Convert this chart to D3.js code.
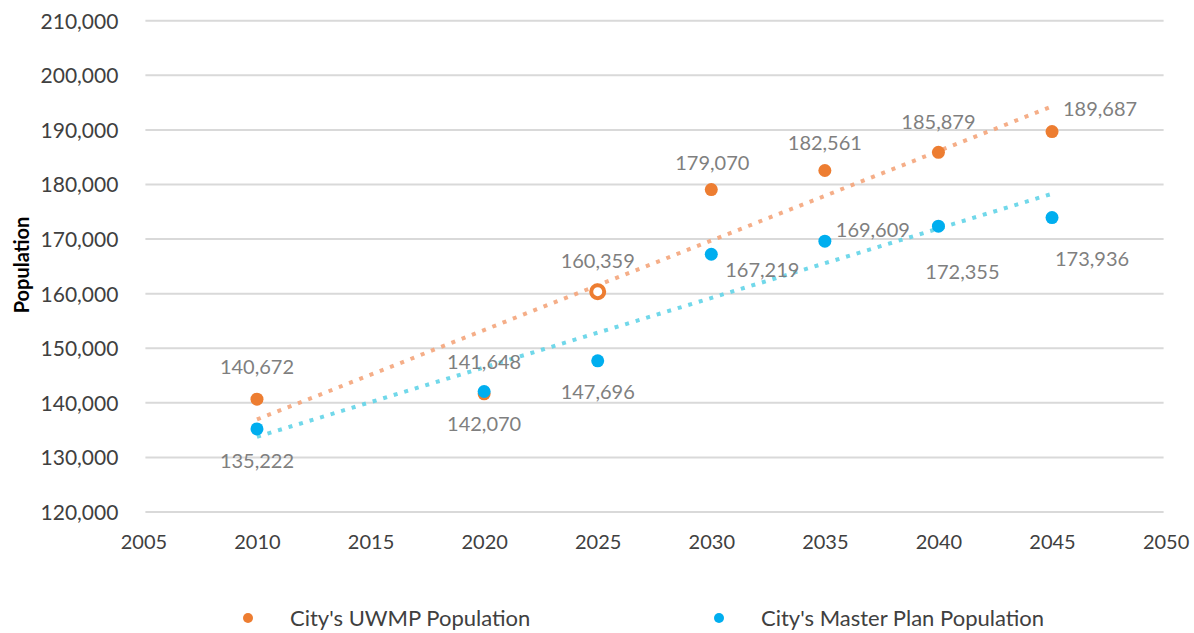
<!DOCTYPE html>
<html>
<head>
<meta charset="utf-8">
<script src="https://cdn.jsdelivr.net/npm/d3@7"></script>
<style>
  body { margin: 0; background: #fff; }
  svg { display: block; font-family: Lato, "Open Sans", sans-serif; }
</style>
</head>
<body>
<svg width="1194" height="633"></svg>
<script>
// Data
const years = [2010, 2020, 2025, 2030, 2035, 2040, 2045];
const uwmp = [140672, 141648, 160359, 179070, 182561, 185879, 189687];
const masterPlan = [135222, 142070, 147696, 167219, 169609, 172355, 173936];
const xTicks = [2005, 2010, 2015, 2020, 2025, 2030, 2035, 2040, 2045, 2050];
const yTicks = [120000, 130000, 140000, 150000, 160000, 170000, 180000, 190000, 200000, 210000];
const seriesNames = ["City's UWMP Population", "City's Master Plan Population"];

// label offsets (px) for each point, picked to match the original layout
const uwmpLabelPos = [[0, -32], [0, -32], [0, -31], [1, -27], [0, -27], [0, -30], [48, -23]];
const masterLabelPos = [[0, 32], [0, 32], [0, 31], [51, 16], [48, -11], [24, 46], [40, 41]];

const svg = d3.select("svg");
const margin = { left: 143.4, right: 1165.6, top: 20.7, bottom: 512 };

const x = d3.scaleLinear().domain([2005, 2050]).range([margin.left, margin.right]);
const y = d3.scaleLinear().domain([120000, 210000]).range([margin.bottom, margin.top]);
const fmt = d3.format(",");

// Gridlines
svg.append("g")
  .selectAll("line")
  .data(yTicks)
  .join("line")
  .attr("x1", x(2005) + 2)
  .attr("x2", x(2050) - 2)
  .attr("y1", d => y(d))
  .attr("y2", d => y(d))
  .attr("stroke", "#d9d9d9")
  .attr("stroke-width", 2);

// Axes (text only, Excel-style)
const yAxis = svg.append("g")
  .attr("transform", `translate(${margin.left - 22},0)`)
  .call(d3.axisLeft(y).tickValues(yTicks).tickFormat(fmt).tickSize(0));
const xAxis = svg.append("g")
  .attr("transform", `translate(0,${margin.bottom + 19})`)
  .call(d3.axisBottom(x).tickValues(xTicks).tickFormat(d3.format("d")).tickSize(0));
[yAxis, xAxis].forEach(a => {
  a.select(".domain").remove();
  a.selectAll("text")
    .attr("font-family", "Lato, sans-serif")
    .attr("font-size", 20)
    .attr("fill", "#404040");
});
yAxis.selectAll("text").attr("font-size", 21).attr("dy", "0.35em");
xAxis.selectAll("text").attr("dy", "0.75em");

svg.append("text")
  .attr("transform", `translate(29,265) rotate(-90)`)
  .attr("text-anchor", "middle")
  .attr("font-size", 20)
  .attr("font-weight", "bold")
  .attr("fill", "#000")
  .text("Population");

// Linear trendlines
const trend = vals => {
  const mx = d3.mean(years), my = d3.mean(vals);
  const sxy = d3.sum(years, (v, i) => (v - mx) * (vals[i] - my));
  const sxx = d3.sum(years, v => (v - mx) ** 2);
  const b = sxy / sxx;
  return t => my + b * (t - mx);
};

const series = [
  { vals: uwmp, color: "#ed7d31", trendColor: "#f5a67c", labels: uwmpLabelPos },
  { vals: masterPlan, color: "#00aeef", trendColor: "#62d4e8", labels: masterLabelPos }
];

series.forEach(s => {
  const f = trend(s.vals);
  const ends = [years[0], years[years.length - 1]];
  svg.append("line")
    .attr("x1", x(ends[0])).attr("y1", y(f(ends[0])))
    .attr("x2", x(ends[1])).attr("y2", y(f(ends[1])))
    .attr("stroke", s.trendColor)
    .attr("stroke-width", 4)
    .attr("stroke-dasharray", "4 7")
    .attr("opacity", 0.9);
});

series.forEach((s, si) => {
  svg.append("g")
    .selectAll("circle")
    .data(s.vals)
    .join("circle")
    .attr("cx", (d, i) => x(years[i]))
    .attr("cy", d => y(d))
    .attr("r", 6.5)
    .attr("fill", (d, i) => (si === 0 && i === 2) ? "#fff" : s.color)
    .attr("stroke", s.color)
    .attr("stroke-width", (d, i) => (si === 0 && i === 2) ? 4 : 0);
});

series.forEach(s => {
  svg.append("g")
    .selectAll("text")
    .data(s.vals)
    .join("text")
    .attr("x", (d, i) => x(years[i]) + s.labels[i][0])
    .attr("y", (d, i) => y(d) + s.labels[i][1])
    .attr("dy", "0.35em")
    .attr("text-anchor", "middle")
    .attr("font-size", 20)
    .attr("fill", "#7f7f7f")
    .text(d => fmt(d));
});

// Legend
const legendX = [248, 719];
const legend = svg.append("g")
  .selectAll("g")
  .data(seriesNames)
  .join("g")
  .attr("transform", (d, i) => `translate(${legendX[i]},618)`);
legend.append("circle")
  .attr("r", 5)
  .attr("fill", (d, i) => series[i].color);
legend.append("text")
  .attr("x", 42)
  .attr("dy", "0.35em")
  .attr("font-size", 22)
  .attr("fill", "#404040")
  .text(d => d);
</script>
</body>
</html>
